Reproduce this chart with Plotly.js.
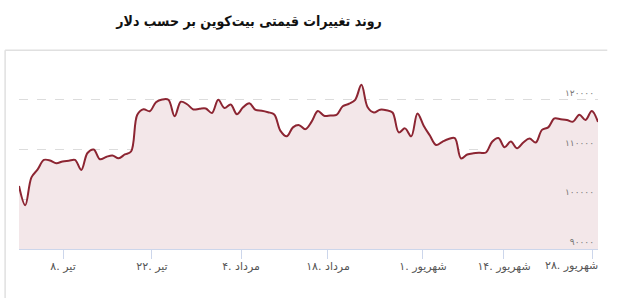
<!DOCTYPE html>
<html>
<head>
<meta charset="utf-8">
<script src="https://cdn.plot.ly/plotly-3.0.1.min.js"></script>
<style>html,body{margin:0;padding:0;background:#fff;}#chart{width:621px;height:298px;}</style>
</head>
<body>
<div id="chart"></div>
<script>
const titleText = "روند تغییرات قیمتی بیت‌کوین بر حسب دلار";

const prices = [
  102650, 98800, 104400, 106000, 107900, 107800, 107250, 107600, 107750, 107900,
  105900, 109300, 110000, 108050, 108500, 108800, 108250, 109000, 109600, 117000,
  118100, 117700, 119500, 120050, 120000, 116700, 119600, 119100, 118050, 118200,
  118250, 117350, 120000, 118350, 119050, 117100, 118500, 119300, 117950, 117800,
  117500, 117050, 113750, 112650, 114450, 114900, 114100, 115600, 117750, 116800,
  116850, 116950, 118700, 119200, 120000, 123000, 118500, 117450, 118000, 117900,
  117450, 113450, 114250, 112650, 117250, 114800, 112800, 110900, 111550, 112100,
  112300, 108200, 109000, 109250, 109350, 109400, 111550, 112300, 110450, 111600,
  110250, 111400, 112200, 111400, 113950, 114450, 116250, 116100, 115950, 115600,
  117000, 115950, 117750, 115550
];
const pointIndex = prices.map((_, i) => i);

const xTickPos = [7.07, 21.36, 35.66, 49.63, 64.89, 77.9, 92.19];
const xTickMonths = ["تیر", "تیر", "مرداد", "مرداد", "شهریور", "شهریور", "شهریور"];
const xTickDays = ["۸", "۲۲", "۴", "۱۸", "۱", "۱۴", "۲۸"];
const xTickLabels = xTickMonths.map((m, i) => xTickDays[i] + ". " + m);

const yTickVals = [90000, 100000, 110000, 120000];
const yTickLabels = ["۹۰۰۰۰", "۱۰۰۰۰۰", "۱۱۰۰۰۰", "۱۲۰۰۰۰"];

const lastIdx = xTickLabels.length - 1;
// last label is pushed left to fit inside the chart, as in the reference
const axisTickText = xTickLabels.map((t, i) => i === lastIdx ? "" : t);

const trace = {
  x: pointIndex,
  y: prices,
  type: "scatter",
  mode: "lines",
  line: {color: "#8c2532", width: 2, shape: "spline", smoothing: 1},
  fill: "tozeroy",
  fillcolor: "#f3e7e9",
  hoverinfo: "skip"
};

const tickFont = {family: "DejaVu Sans, sans-serif", size: 11, color: "#555"};

const layout = {
  width: 621,
  height: 298,
  margin: {l: 19, r: 23, t: 55, b: 49},
  paper_bgcolor: "#ffffff",
  plot_bgcolor: "#ffffff",
  showlegend: false,
  title: {
    text: "<b>" + titleText + "</b>",
    font: {family: "DejaVu Sans Condensed, DejaVu Sans, sans-serif", size: 14, color: "#111"},
    x: 0.401, xref: "container", xanchor: "center",
    y: 0.928, yref: "container", yanchor: "middle"
  },
  xaxis: {
    range: [0, prices.length - 1],
    tickmode: "array",
    tickvals: xTickPos,
    ticktext: axisTickText,
    ticks: "outside",
    ticklen: 9,
    tickcolor: "#ccd6eb",
    tickwidth: 1,
    ticklabelstandoff: -2,
    showgrid: false,
    zeroline: false,
    showline: true,
    linecolor: "#ccd6eb",
    linewidth: 1,
    tickfont: tickFont,
    fixedrange: true
  },
  yaxis: {
    range: [90000, 129000],
    side: "right",
    tickmode: "array",
    tickvals: yTickVals,
    ticktext: yTickLabels,
    ticklabelposition: "inside",
    ticklabeloverflow: "allow",
    ticklabelshift: -7,
    ticklabelstandoff: 1,
    ticks: "",
    showgrid: true,
    gridcolor: "#dcdcdc",
    griddash: "dash",
    gridwidth: 1,
    zeroline: false,
    showline: false,
    tickfont: {family: "DejaVu Sans, sans-serif", size: 9, color: "#777"},
    fixedrange: true
  },
  annotations: [
    {text: xTickLabels[lastIdx], xref: "paper", yref: "paper", x: 1.004, y: 0,
     xanchor: "right", yanchor: "top", yshift: -8, showarrow: false, font: tickFont}
  ],
  shapes: [
    {type: "line", xref: "paper", yref: "paper", x0: -0.024, x1: 1.016, y0: 1.025, y1: 1.025,
     line: {color: "#e0e0e0", width: 1.5}},
    {type: "line", xref: "paper", yref: "paper", x0: -0.024, x1: -0.024, y0: 1.025, y1: -0.3,
     line: {color: "#e0e0e0", width: 1.5}}
  ]
};

Plotly.newPlot("chart", [trace], layout, {displayModeBar: false, staticPlot: true});
</script>
</body>
</html>
